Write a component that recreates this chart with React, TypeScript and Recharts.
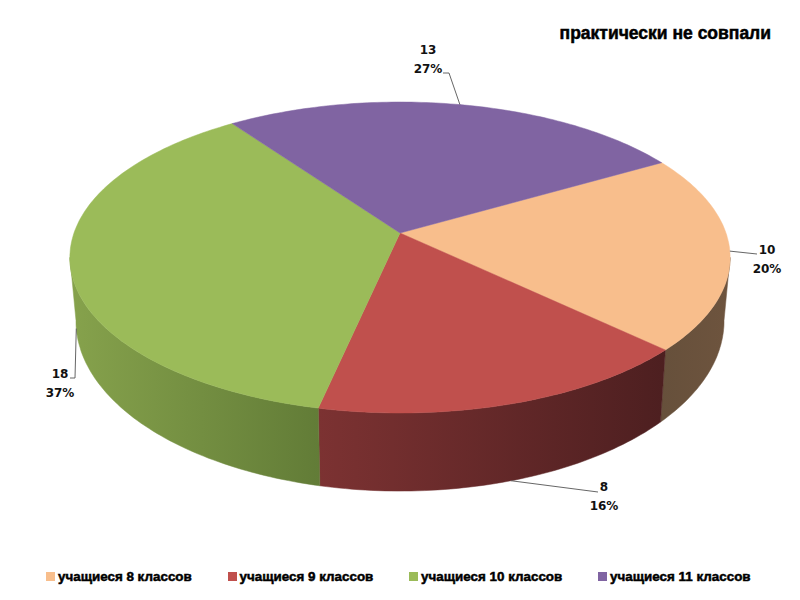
import { Legend, Pie, PieChart } from 'recharts';

const categories = [
  'учащиеся 8 классов',
  'учащиеся 9 классов',
  'учащиеся 10 классов',
  'учащиеся 11 классов',
];
const values = [10, 8, 18, 13];
const colors = ['#F8BE8C', '#C0504D', '#9BBB59', '#8064A2'];
const title = 'практически не совпали';

// side wall shading, left to right
const wallColors = [
  ['#66503B', '#6E543E'],
  ['#7C3232', '#4D1F20'],
  ['#86A24C', '#627C37'],
  ['#6A5388', '#5A4774'],
];

const data = categories.map((name, i) => ({ name, value: values[i], fill: colors[i] }));

// perspective of the disc: top face and the lower rim of the wall
const TOP = { dy: 0, c: 326, b: 151.6, a: 0.1576 };
const BOTTOM = { dy: 61, c: 320, b: 166, a: 0.1576 };

type Rim = typeof TOP;

const rimPoint = (cx: number, cy: number, angle: number, rim: Rim) => {
  const rad = (angle * Math.PI) / 180;
  const u = Math.cos(rad);
  const v = Math.sin(rad);
  const k = 1 + rim.a * v;
  return [cx + (rim.c * u) / k, cy + rim.dy - (rim.b * v) / k];
};

const arc = (cx: number, cy: number, from: number, to: number, rim: Rim) => {
  const steps = Math.max(2, Math.ceil(Math.abs(to - from)));
  const pts: number[][] = [];
  for (let i = 0; i <= steps; i++) {
    pts.push(rimPoint(cx, cy, from + ((to - from) * i) / steps, rim));
  }
  return pts;
};

const toPath = (pts: number[][]) =>
  'M' + pts.map((p) => `${p[0].toFixed(1)},${p[1].toFixed(1)}`).join('L') + 'Z';

const TopFace = (props: any) => {
  const { cx, cy, startAngle, endAngle, fill } = props;
  const pts = [[cx, cy], ...arc(cx, cy, startAngle, endAngle, TOP)];
  return <path d={toPath(pts)} fill={fill} stroke={fill} strokeWidth={0.5} />;
};

const WallFace = (props: any) => {
  const { cx, cy, startAngle, endAngle, index } = props;
  // only the front of the wall can be seen, between the two widest points of the disc
  const from = Math.min(startAngle, -9);
  const to = Math.max(endAngle, -171);
  if (from <= to) return null;
  const pts = [...arc(cx, cy, from, to, TOP), ...arc(cx, cy, to, from, BOTTOM)];
  const xs = pts.map((p) => p[0]);
  const id = `wall-${index}`;
  return (
    <g>
      <defs>
        <linearGradient
          id={id}
          gradientUnits="userSpaceOnUse"
          x1={Math.min(...xs)}
          x2={Math.max(...xs)}
          y1={0}
          y2={0}
        >
          <stop offset="0%" stopColor={wallColors[index][0]} />
          <stop offset="100%" stopColor={wallColors[index][1]} />
        </linearGradient>
      </defs>
      <path d={toPath(pts)} fill={`url(#${id})`} stroke={`url(#${id})`} strokeWidth={0.5} />
    </g>
  );
};

// where each data label sits: text centre, and the bend(s) of its leader line
const labelSpots = [
  { x: 767, y: 249, rim: TOP, bends: [[757, 254]] },
  { x: 604, y: 486, rim: BOTTOM, bends: [[598, 492]] },
  { x: 60, y: 373, rim: BOTTOM, bends: [[75, 378], [70, 378]] },
  { x: 428, y: 49, rim: TOP, bends: [[449, 73], [443, 73]] },
];

const labelFont = {
  fontFamily: '"DejaVu Sans", sans-serif',
  fontSize: 12,
  fontWeight: 700,
  fill: '#111',
  textAnchor: 'middle' as const,
};

const renderLabel = (props: any) => {
  const { cx, cy, midAngle, value, percent, index } = props;
  const spot = labelSpots[index];
  const start = rimPoint(cx, cy, midAngle, spot.rim);
  const line = [start, ...spot.bends].map((p) => p.join(',')).join(' ');
  return (
    <g key={index}>
      <polyline points={line} fill="none" stroke="#555" strokeWidth={0.9} />
      <text x={spot.x} y={spot.y + 4.5} {...labelFont}>
        {value}
      </text>
      <text x={spot.x} y={spot.y + 23.5} {...labelFont}>
        {Math.round(percent * 100)}%
      </text>
    </g>
  );
};

const heavyText = {
  fontFamily: '"Liberation Sans", Arial, sans-serif',
  fontWeight: 700,
  color: '#000',
  WebkitTextStroke: '0.5px #000',
};

const renderLegend = () => (
  <div style={{ display: 'flex', gap: 35.8, paddingLeft: 46 }}>
    {categories.map((name, i) => (
      <div key={name} style={{ display: 'flex', alignItems: 'center', gap: 3 }}>
        <span style={{ width: 9, height: 9, background: colors[i], display: 'inline-block' }} />
        <span style={{ ...heavyText, fontSize: 13.4, whiteSpace: 'nowrap' }}>{name}</span>
      </div>
    ))}
  </div>
);

export default function App() {
  return (
    <div style={{ position: 'absolute', left: 0, top: 0, width: 800, height: 600, background: '#fff' }}>
      <PieChart width={800} height={600} margin={{ top: 0, right: 0, bottom: 0, left: 0 }}>
        <text
          x={771}
          y={39}
          textAnchor="end"
          fontFamily='"Liberation Sans", Arial, sans-serif'
          fontWeight={700}
          fontSize={17.5}
          fill="#000"
          stroke="#000"
          strokeWidth={0.5}
        >
          {title}
        </text>
        <Pie
          data={data}
          dataKey="value"
          nameKey="name"
          cx={400}
          cy={233}
          outerRadius={330}
          startAngle={30}
          endAngle={-330}
          legendType="none"
          shape={WallFace}
          isAnimationActive={false}
        />
        <Pie
          data={data}
          dataKey="value"
          nameKey="name"
          cx={400}
          cy={233}
          outerRadius={330}
          startAngle={30}
          endAngle={-330}
          shape={TopFace}
          label={renderLabel}
          labelLine={false}
          isAnimationActive={false}
        />
        <Legend content={renderLegend} wrapperStyle={{ left: 0, top: 569, width: 800 }} />
      </PieChart>
    </div>
  );
}
